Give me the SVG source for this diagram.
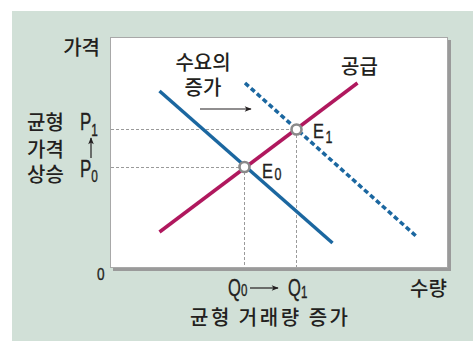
<svg xmlns="http://www.w3.org/2000/svg" width="473" height="341" viewBox="0 0 473 341">
<defs>
<style>
.ko{font-family:"Noto Sans CJK KR","Noto Sans",sans-serif;font-size:20px;font-weight:500;fill:#231f20}
.la{font-family:"Liberation Sans",Arial,sans-serif;fill:#231f20;stroke:#231f20;stroke-width:0.35;font-size:23px}
.la.e{font-size:21px}
.la.zero{font-size:17px}
.sub{font-size:16px}
.guide{stroke:#9a9a9a;stroke-width:1;stroke-dasharray:3 2;fill:none}
.dem{stroke:#1b67a0;stroke-width:3.5;fill:none}
.sup{stroke:#b0185e;stroke-width:3.5;fill:none}
.pt{fill:#fff;stroke:#8a8a8a;stroke-width:2.6}
.arr{stroke:#231f20;stroke-width:1.2;fill:none}
</style>
<marker id="ah" viewBox="0 0 10 10" refX="9" refY="5" markerWidth="9" markerHeight="7" markerUnits="userSpaceOnUse" orient="auto">
<path d="M0,1 L10,5 L0,9 L2.5,5 Z" fill="#231f20"/>
</marker>
</defs>
<rect x="0" y="0" width="473" height="341" fill="#ffffff"/>
<rect x="12" y="11" width="461" height="330" fill="#d1e0d7"/>
<g id="plot-box">
<rect x="113" y="40" width="338" height="231" fill="#9a9a9a"/>
<rect x="110.5" y="37.5" width="337" height="230" fill="#ffffff" stroke="#a8a8a8" stroke-width="1"/>
</g>
<g id="connectors">
<line class="guide" x1="111" y1="129.5" x2="297" y2="129.5"/>
<line class="guide" x1="111" y1="167.5" x2="244" y2="167.5"/>
<line class="guide" x1="244.5" y1="167" x2="244.5" y2="267"/>
<line class="guide" x1="296.5" y1="130" x2="296.5" y2="267"/>
<line id="demand-0" class="dem" x1="159.5" y1="91" x2="332.5" y2="243"/>
<line id="demand-1" class="dem" x1="245" y1="83" x2="416" y2="236" stroke-dasharray="5 3" stroke-width="4"/>
<line id="supply" class="sup" x1="159.5" y1="232" x2="357.5" y2="83"/>
<line class="arr" x1="200" y1="109" x2="251" y2="109" marker-end="url(#ah)"/>
<line class="arr" x1="91" y1="158" x2="91" y2="138" marker-end="url(#ah)"/>
<line class="arr" x1="250" y1="288" x2="278" y2="288" marker-end="url(#ah)"/>
</g>
<g id="E0">
<circle class="pt" cx="244.5" cy="167" r="5"/>
<text class="la e" transform="translate(262,178) scale(0.78,1)">E<tspan class="sub" dx="2" dy="2">0</tspan></text>
</g>
<g id="E1">
<circle class="pt" cx="296.5" cy="129.5" r="5"/>
<text class="la e" transform="translate(313,138) scale(0.78,1)">E<tspan class="sub" dx="2" dy="5">1</tspan></text>
</g>
<g id="y-axis-labels">
<text class="ko" x="100" y="55" text-anchor="end">가격</text>
<text class="ko" x="27" y="130">균형</text>
<text class="ko" x="27" y="157">가격</text>
<text class="ko" x="27" y="182">상승</text>
<text class="la" transform="translate(80,130) scale(0.74,1)">P<tspan class="sub" dy="6">1</tspan></text>
<text class="la" transform="translate(80,177) scale(0.74,1)">P<tspan class="sub" dy="5">0</tspan></text>
<text class="la zero" transform="translate(97,280) scale(0.8,1)">0</text>
</g>
<g id="demand-shift-label">
<text class="ko" x="203" y="70" text-anchor="middle">수요의</text>
<text class="ko" x="203" y="95" text-anchor="middle">증가</text>
</g>
<g id="supply-label">
<text class="ko" x="341" y="74">공급</text>
</g>
<g id="x-axis-labels">
<text class="la" transform="translate(228,296) scale(0.72,1)">Q<tspan class="sub" dy="0">0</tspan></text>
<text class="la" transform="translate(288,296) scale(0.72,1)">Q<tspan class="sub" dy="2">1</tspan></text>
<text class="ko" x="410" y="296">수량</text>
<text class="ko" x="190" y="325" textLength="158" lengthAdjust="spacing">균형 거래량 증가</text>
</g>
</svg>
